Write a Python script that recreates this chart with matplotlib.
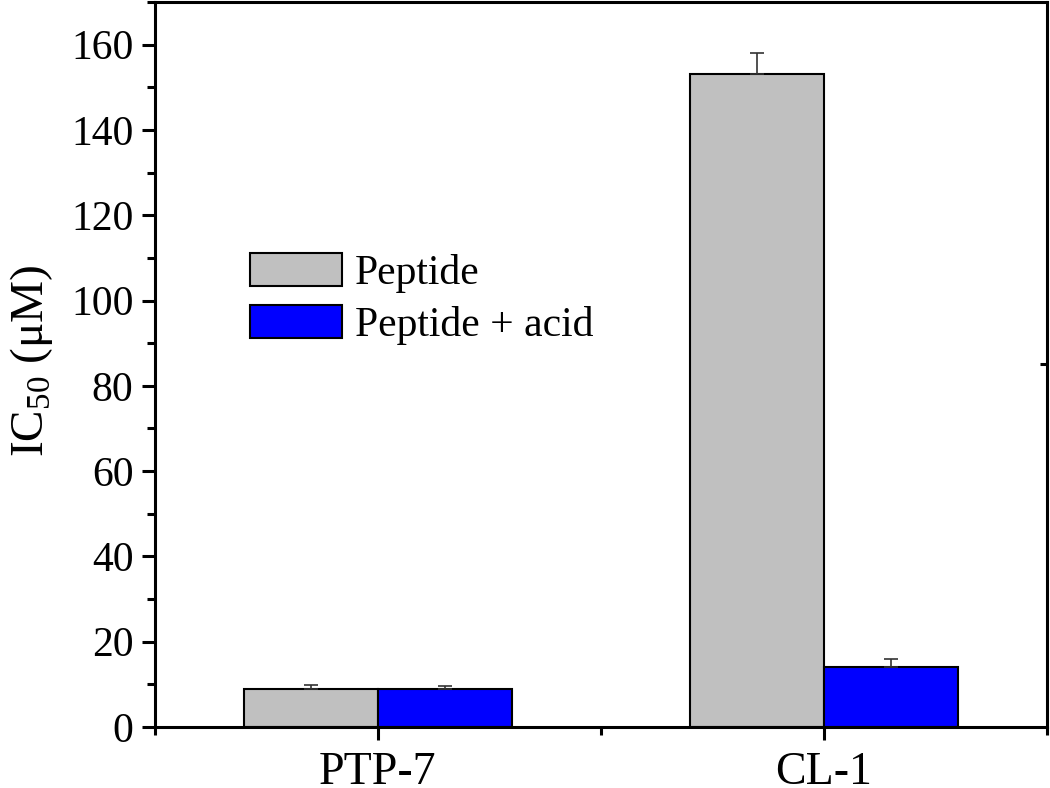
import matplotlib
matplotlib.use("Agg")
import matplotlib.pyplot as plt
import numpy as np
from matplotlib.ticker import MultipleLocator

categories = ["PTP-7", "CL-1"]
series_names = ["Peptide", "Peptide + acid"]
peptide = [9.0, 153.0]
peptide_err = [0.85, 5.0]
peptide_acid = [9.0, 14.0]
peptide_acid_err = [0.5, 2.0]

plt.rcParams['font.family'] = ['Liberation Serif', 'DejaVu Serif']
plt.rcParams['mathtext.fontset'] = 'custom'
plt.rcParams['mathtext.rm'] = 'Liberation Serif'

fig = plt.figure(figsize=(10.5, 7.88), dpi=100)
ax = fig.add_axes([0.1476, 0.0774, 0.997 - 0.1476, 0.9975 - 0.0774])

x = np.arange(1, len(categories) + 1)
w = 0.3
ax.bar(x - w / 2, peptide, w, color='#C0C0C0', edgecolor='black', linewidth=1.5,
       label=series_names[0], zorder=2)
ax.bar(x + w / 2, peptide_acid, w, color='#0000FF', edgecolor='black', linewidth=1.5,
       label=series_names[1], zorder=2)
ax.errorbar(x - w / 2, peptide, yerr=[np.zeros(len(x)), peptide_err], fmt='none',
            ecolor='#333333', elinewidth=1.2, capsize=5, capthick=1.2, zorder=3)
ax.errorbar(x + w / 2, peptide_acid, yerr=[np.zeros(len(x)), peptide_acid_err], fmt='none',
            ecolor='#333333', elinewidth=1.2, capsize=5, capthick=1.2, zorder=3)

ax.set_xlim(0.5, 2.5)
ax.set_ylim(0, 170)
ax.set_xticks(x)
ax.set_xticklabels(categories)
ax.xaxis.set_minor_locator(MultipleLocator(0.5))
ax.yaxis.set_major_locator(MultipleLocator(20))
ax.yaxis.set_minor_locator(MultipleLocator(10))

for s in ax.spines.values():
    s.set_linewidth(2.2)
ax.tick_params(axis='both', which='major', direction='out', length=9.5, width=2.2,
               labelsize=30, pad=6)
ax.tick_params(axis='both', which='minor', direction='out', length=5.5, width=2.2)
ax.tick_params(axis='x', which='major', pad=8, labelsize=33)
ax.tick_params(top=False, right=False)

# single inward tick on right spine, as in the reference
sec = ax.secondary_yaxis('right')
sec.set_yticks([85])
sec.tick_params(direction='in', length=5, width=2.2, labelright=False)
sec.spines['right'].set_visible(False)

ax.set_ylabel(r'IC$_{50}$ (μM)', fontsize=34)
ax.yaxis.set_label_coords(-0.112, 0.505)

leg = ax.legend(loc='upper left', bbox_to_anchor=(0.107, 0.654), fontsize=30,
                frameon=False, handlelength=2.2, handleheight=0.85,
                labelspacing=0.28, handletextpad=0.3, borderaxespad=0, borderpad=0)

fig.savefig('out.png', dpi=100)
